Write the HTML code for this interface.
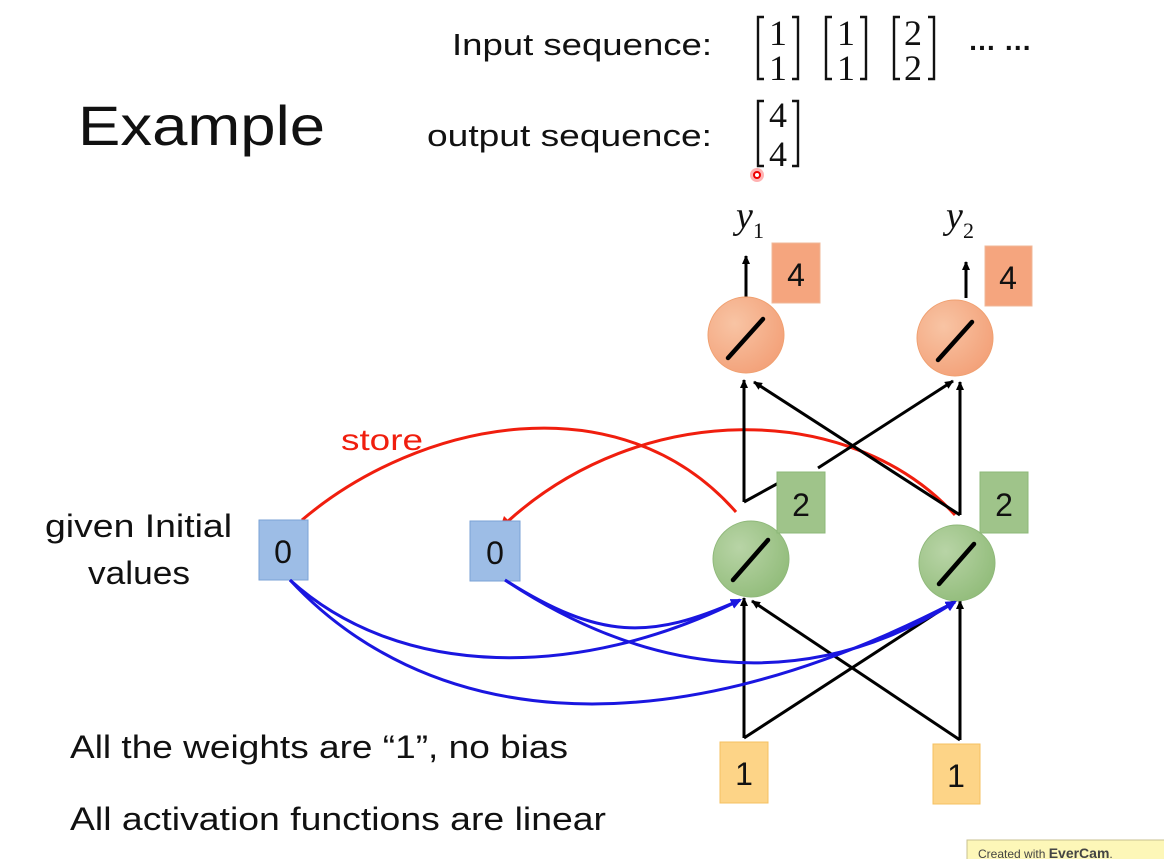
<!DOCTYPE html>
<html><head><meta charset="utf-8"><style>
html,body{margin:0;padding:0;background:#fff;}
svg{display:block;}
text{font-family:"Liberation Sans",sans-serif;}
.s{font-family:"Liberation Serif",serif;}
</style></head><body>
<svg width="1164" height="859" viewBox="0 0 1164 859" xmlns="http://www.w3.org/2000/svg">
<defs>
<marker id="ab" markerWidth="10" markerHeight="10" refX="8" refY="5" orient="auto" markerUnits="userSpaceOnUse"><path d="M0,1 L9,5 L0,9 Z" fill="#000"/></marker>
<marker id="au" markerWidth="12" markerHeight="12" refX="9" refY="6" orient="auto" markerUnits="userSpaceOnUse"><path d="M0,1 L11,6 L0,11 Z" fill="#1a16e0"/></marker>
<radialGradient id="go" cx="0.35" cy="0.35" r="0.7"><stop offset="0" stop-color="#f8c4a4"/><stop offset="1" stop-color="#f3a27a"/></radialGradient>
<radialGradient id="gg" cx="0.35" cy="0.35" r="0.7"><stop offset="0" stop-color="#b8d4a6"/><stop offset="1" stop-color="#93bd7c"/></radialGradient>
</defs>

<text x="78" y="145" font-size="56" fill="#111" textLength="247" lengthAdjust="spacingAndGlyphs">Example</text>
<text x="452" y="55" font-size="31" fill="#111" textLength="260" lengthAdjust="spacingAndGlyphs">Input sequence:</text>
<text x="427" y="146" font-size="31" fill="#111" textLength="285" lengthAdjust="spacingAndGlyphs">output sequence:</text>

<g fill="none" stroke="#111" stroke-width="2.4">
<path d="M764,17 H758 V79 H764"/><path d="M792,17 H798 V79 H792"/>
<path d="M832,17 H826 V79 H832"/><path d="M860,17 H866 V79 H860"/>
<path d="M900,17 H894 V79 H900"/><path d="M928,17 H934 V79 H928"/>
<path d="M764,101 H758 V166 H764"/><path d="M792,101 H798 V166 H792"/>
</g>
<g font-size="36" fill="#111" text-anchor="middle">
<text x="778" y="45" class="s">1</text><text x="778" y="80" class="s">1</text>
<text x="846" y="45" class="s">1</text><text x="846" y="80" class="s">1</text>
<text x="913" y="45" class="s">2</text><text x="913" y="80" class="s">2</text>
<text x="778" y="127" class="s">4</text><text x="778" y="166" class="s">4</text>
</g>
<text x="968" y="50" font-size="28" fill="#111" font-weight="bold">… …</text>
<circle cx="757" cy="175" r="7" fill="#f66" opacity="0.5"/><circle cx="757" cy="175" r="3" fill="#fff" stroke="#e00" stroke-width="2"/>

<text x="736" y="228" font-size="38" font-style="italic" class="s" fill="#111">y</text><text x="753" y="238" font-size="22" class="s" fill="#111">1</text>
<text x="946" y="228" font-size="38" font-style="italic" class="s" fill="#111">y</text><text x="963" y="238" font-size="22" class="s" fill="#111">2</text>

<!-- red curves -->
<path d="M302,520 C420,420 620,380 736,512" fill="none" stroke="#f01e0e" stroke-width="3"/>
<path d="M955,515 C850,400 640,400 506,523" fill="none" stroke="#f01e0e" stroke-width="3"/>
<polygon points="500,528 504,516 512,524" fill="#f01e0e"/>
<text x="341" y="450" font-size="30" fill="#f01e0e" textLength="82" lengthAdjust="spacingAndGlyphs">store</text>

<!-- black lines -->
<g stroke="#000" stroke-width="3" fill="none" marker-end="url(#ab)">
<path d="M746,297 V256"/><path d="M966,298 V262"/>
<path d="M744,502 V380"/><path d="M818,468 L953,381"/>
<path d="M960,515 V382"/><path d="M960,515 L754,382"/>
<path d="M744,738 V598"/><path d="M744,738 L955,601"/>
<path d="M960,740 V601"/><path d="M960,740 L752,601"/>
</g>
<path d="M744,502 L784,480" stroke="#000" stroke-width="3"/>

<!-- nodes -->
<circle cx="746" cy="335" r="38" fill="url(#go)" stroke="#f0a070" stroke-width="1"/>
<circle cx="955" cy="338" r="38" fill="url(#go)" stroke="#f0a070" stroke-width="1"/>
<circle cx="751" cy="559" r="38" fill="url(#gg)" stroke="#8fb87a" stroke-width="1"/>
<circle cx="957" cy="563" r="38" fill="url(#gg)" stroke="#8fb87a" stroke-width="1"/>
<g stroke="#000" stroke-width="4.5" stroke-linecap="round">
<line x1="728" y1="358" x2="763" y2="319"/><line x1="938" y1="360" x2="972" y2="322"/>
<line x1="733" y1="580" x2="768" y2="540"/><line x1="939" y1="584" x2="974" y2="544"/>
</g>

<rect x="772" y="243" width="48" height="60" fill="#f5a57e" stroke="#f0b898"/>
<rect x="985" y="246" width="47" height="60" fill="#f5a57e" stroke="#f0b898"/>
<rect x="777" y="472" width="48" height="61" fill="#9fc48a" stroke="#8cb878"/>
<rect x="980" y="472" width="48" height="61" fill="#9fc48a" stroke="#8cb878"/>
<rect x="259" y="520" width="49" height="60" fill="#9dbde6" stroke="#7aa2d6"/>
<rect x="470" y="521" width="50" height="60" fill="#9dbde6" stroke="#7aa2d6"/>
<rect x="720" y="742" width="48" height="61" fill="#fdd487" stroke="#f5c060"/>
<rect x="933" y="744" width="47" height="60" fill="#fdd487" stroke="#f5c060"/>
<g font-size="32" fill="#111" text-anchor="middle">
<text x="796" y="286">4</text><text x="1008" y="289">4</text>
<text x="801" y="516">2</text><text x="1004" y="516">2</text>
<text x="283" y="563">0</text><text x="495" y="564">0</text>
<text x="744" y="785">1</text><text x="956" y="787">1</text>
</g>

<!-- blue curves -->
<g stroke="#1a16e0" stroke-width="3" fill="none" marker-end="url(#au)">
<path d="M290,580 C400,680 580,680 740,600"/>
<path d="M290,580 C420,720 650,760 955,602"/>
<path d="M505,580 C600,640 650,640 740,600"/>
<path d="M505,580 C640,670 800,700 955,602"/>
</g>

<text x="45" y="537" font-size="32" fill="#111" textLength="187" lengthAdjust="spacingAndGlyphs">given Initial</text>
<text x="88" y="584" font-size="32" fill="#111" textLength="102" lengthAdjust="spacingAndGlyphs">values</text>
<text x="70" y="758" font-size="32" fill="#111" textLength="498" lengthAdjust="spacingAndGlyphs">All the weights are “1”, no bias</text>
<text x="70" y="830" font-size="32" fill="#111" textLength="536" lengthAdjust="spacingAndGlyphs">All activation functions are linear</text>

<rect x="967" y="840" width="200" height="22" fill="#fdf7b8" stroke="#c8c090"/>
<text x="978" y="858" font-size="12" fill="#444">Created with <tspan font-weight="bold" font-size="14">EverCam</tspan>.</text>
</svg>
</body></html>
